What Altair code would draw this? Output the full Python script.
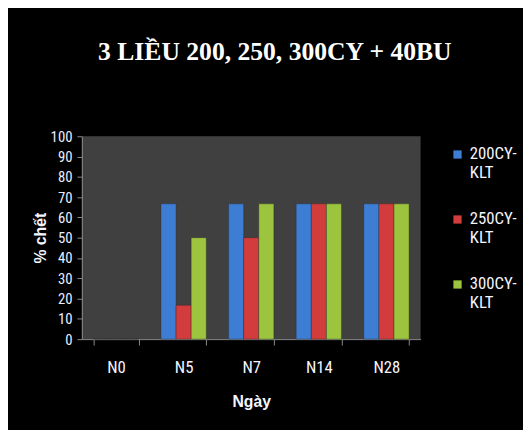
import altair as alt
import pandas as pd

days = ["N0", "N5", "N7", "N14", "N28"]
series = ["200CY-KLT", "250CY-KLT", "300CY-KLT"]
v200 = [0, 66.7, 66.7, 66.7, 66.7]
v250 = [0, 16.7, 50, 66.7, 66.7]
v300 = [0, 50, 66.7, 66.7, 66.7]
colors = ["#3d7ed4", "#d23c3c", "#9cc43f"]
y_ticks = [0, 10, 20, 30, 40, 50, 60, 70, 80, 90, 100]

rows = []
for name, vals in zip(series, [v200, v250, v300]):
    for d, v in zip(days, vals):
        rows.append({"Ngày": d, "Loại": name, "val": v})
df = pd.DataFrame(rows)

NARROW = "Liberation Sans Narrow, Arial Narrow, Roboto Condensed, Liberation Sans"

chart = alt.Chart(df).mark_bar(
    stroke="#222222", strokeOpacity=0.35, strokeWidth=1
).encode(
    x=alt.X("Ngày:N", sort=days,
            scale=alt.Scale(paddingInner=0.33, paddingOuter=0.17),
            axis=alt.Axis(title="Ngày", labelAngle=0, tickBand="extent",
                          labelFont=NARROW, labelFontSize=17, labelColor="#f4f6ff",
                          labelPadding=15, tickSize=6,
                          titleFont="Liberation Sans", titleFontSize=16, titleFontWeight="bold",
                          titleColor="#f4f6ff", titlePadding=18,
                          domainColor="#8a8a8a", tickColor="#8a8a8a")),
    xOffset=alt.XOffset("Loại:N", sort=series, scale=alt.Scale(paddingInner=0, paddingOuter=0)),
    y=alt.Y("val:Q", scale=alt.Scale(domain=[0, 100], nice=False),
            axis=alt.Axis(title="% chết", values=y_ticks, grid=False,
                          labelFont=NARROW, labelFontSize=15, labelColor="#e8eeff",
                          labelPadding=5, tickSize=5,
                          titleFont="Liberation Sans", titleFontSize=16, titleFontWeight="bold",
                          titleColor="#f4f6ff", titlePadding=2,
                          domainColor="#8a8a8a", tickColor="#8a8a8a")),
    color=alt.Color("Loại:N", sort=series,
                    scale=alt.Scale(domain=series, range=colors),
                    legend=alt.Legend(title=None, orient="none", legendX=373, legendY=10,
                                      symbolType="square", symbolSize=70,
                                      symbolStrokeWidth=0,
                                      labelFont=NARROW, labelFontSize=17,
                                      labelColor="#f4f6ff", labelBaseline="middle",
                                      labelExpr="[substring(datum.label, 0, 6), substring(datum.label, 6)]",
                                      rowPadding=29, labelLimit=200)),
).properties(
    width=344,
    height=206,
    background="#000000",
    padding={"left": 75, "top": 127, "right": 104, "bottom": 89},
    autosize=alt.AutoSizeParams(type="none"),
    title=alt.TitleParams("3 LIỀU 200, 250, 300CY + 40BU", font="Liberation Serif",
                          fontSize=26, fontWeight="bold", color="#ffffff",
                          anchor="middle", dx=24, offset=44, baseline="alphabetic"),
).configure_view(fill="#404040", stroke=None)

chart.save("out.html", embed_options={"renderer": "svg", "actions": False})
